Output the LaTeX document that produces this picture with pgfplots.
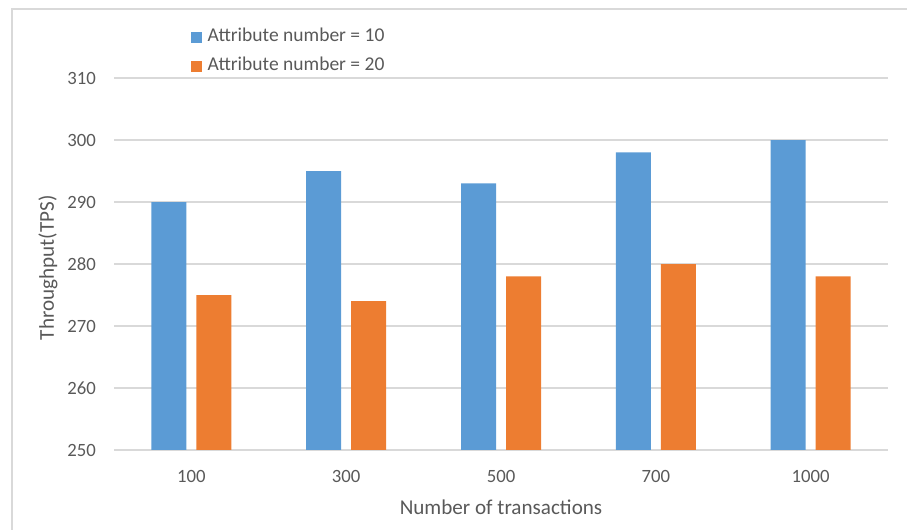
\documentclass[border=0pt]{standalone}
\usepackage{pgfplots}
\pgfplotsset{compat=1.18}
\usepackage{fontspec}
\setmainfont{Carlito}

\definecolor{barblue}{HTML}{5B9BD5}
\definecolor{barorange}{HTML}{ED7D31}
\definecolor{gridgray}{HTML}{D9D9D9}
\definecolor{textgray}{HTML}{595959}

\begin{document}
\begin{tikzpicture}
\useasboundingbox (0,0) rectangle (907bp,530bp);
% chart frame
\draw[gridgray, line width=1.5bp] (12bp,0) -- (12bp,521bp) -- (907bp,521bp);
\begin{axis}[
  at={(114bp,80bp)}, anchor=south west,
  scale only axis, width=774bp, height=372bp,
  ybar=10bp, bar width=35bp,
  xmin=-0.5, xmax=4.5,
  ymin=250, ymax=310,
  xtick={0,1,2,3,4},
  xticklabels={100,300,500,700,1000},
  ytick={250,260,...,310},
  ymajorgrids,
  grid style={gridgray, line width=1.3bp},
  axis line style={draw=none},
  major tick length=0pt,
  tick label style={font=\fontsize{18.8}{20}\selectfont, text=textgray},
  /pgf/number format/assume math mode=true,
  xticklabel style={anchor=center, yshift=-26bp},
  yticklabel style={anchor=east, inner sep=0pt, xshift=-18bp},
  label style={font=\fontsize{21.2}{23}\selectfont, text=textgray},
  xlabel={Number of transactions},
  ylabel={Throughput(TPS)},
  xlabel style={at={(axis description cs:0.5,-0.153)}, anchor=center},
  ylabel style={at={(axis description cs:-0.0853,0.49)}, anchor=center},
  legend cell align=left,
  legend image code/.code={\fill[#1, draw=none] (0bp,-5.5bp) rectangle (11bp,5.5bp); \path (14bp,0bp);},
  legend style={draw=none, fill=none, inner sep=0pt,
    at={(axis description cs:0.0995,1.149)}, anchor=north west,
    font=\fontsize{19.6}{21}\selectfont, text=textgray,
    nodes={inner ysep=0pt, inner xsep=2.5bp, text height=19bp, text depth=10bp}},
]
\addplot[fill=barblue, draw=none] coordinates {(0,290) (1,295) (2,293) (3,298) (4,300)};
\addplot[fill=barorange, draw=none] coordinates {(0,275) (1,274) (2,278) (3,280) (4,278)};
\legend{Attribute number = 10, Attribute number = 20}
\end{axis}
\end{tikzpicture}
\end{document}
